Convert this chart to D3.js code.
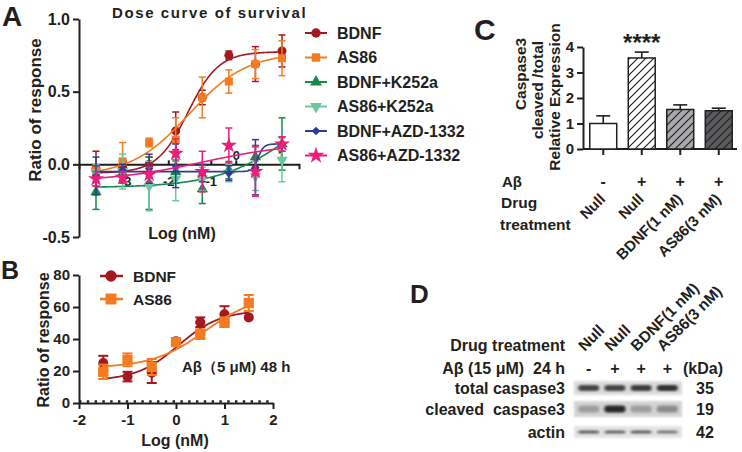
<!DOCTYPE html>
<html><head><meta charset="utf-8">
<script src="https://cdn.jsdelivr.net/npm/d3@7"></script>
<style>
body{margin:0;background:#fff;}
svg{font-family:"Liberation Sans",Arial,Helvetica,sans-serif;font-weight:bold;}
text{fill:#231F20;}
</style></head><body>
<svg id="c" width="742" height="452"></svg>
<script>
// ---------------- DATA ----------------
// Panel A: dose curve of survival (log nM)
const doseA = [-3.5, -3, -2.5, -2, -1.5, -1, -0.5, 0];
const seriesNamesA = ["BDNF", "AS86", "BDNF+K252a", "AS86+K252a", "BDNF+AZD-1332", "AS86+AZD-1332"];
const bdnfA = [-0.03, -0.02, 0.0, 0.23, 0.46, 0.75, 0.69, 0.78];
const bdnfAErr = [0.12, 0.05, 0.05, 0.13, 0.05, 0.03, 0.12, 0.11];
const as86A = [-0.05, 0.02, 0.15, 0.17, 0.46, 0.57, 0.69, 0.73];
const as86AErr = [0.03, 0.13, 0.03, 0.15, 0.14, 0.08, 0.10, 0.12];
const bdnfK252aA = [-0.19, -0.06, -0.13, -0.05, -0.17, -0.04, 0.05, 0.14];
const bdnfK252aAErr = [0.12, 0.06, 0.18, 0.08, 0.10, 0.06, 0.08, 0.18];
const as86K252aA = [-0.06, -0.05, -0.15, -0.10, -0.10, -0.06, -0.08, 0.03];
const as86K252aAErr = [0.06, 0.12, 0.17, 0.15, 0.08, 0.06, 0.10, 0.15];
const bdnfAzdA = [-0.08, -0.04, -0.03, -0.01, -0.06, -0.06, -0.02, 0.14];
const bdnfAzdAErr = [0.13, 0.04, 0.10, 0.15, 0.06, 0.05, 0.19, 0.05];
const as86AzdA = [-0.10, -0.09, -0.07, 0.075, -0.05, 0.13, -0.05, 0.14];
const as86AzdAErr = [0.05, 0.04, 0.05, 0.10, 0.14, 0.12, 0.17, 0.05];
// 4PL fit parameters [bottom, top, logEC50, hill]
const bdnfAFit = [-0.06, 0.775, -1.77, 1.5];
const as86AFit = [-0.08, 0.77, -1.75, 0.8];
const bdnfK252aAFit = [-0.16, 0.6, 0.3, 0.6];
const as86K252aAFit = null;
const bdnfAzdAFit = [-0.05, 0.14, -0.45, 8];
const as86AzdAFit = [-0.12, 0.15, -1.5, 0.5];
const yTicksA = [-0.5, 0, 0.5, 1.0];
const xTickLabelsA = ["-3", "-2", "-1", "0", "1"];
const xTickValuesA = [-2.95, -2.14, -1.34, -0.87, -0.02];

// Panel B
const doseB = [-1.5, -1, -0.5, 0, 0.5, 1, 1.5];
const seriesNamesB = ["BDNF", "AS86"];
const bdnfB = [25, 16.5, 19, 38.5, 50.5, 55.5, 53.5];
const bdnfBErr = [4.5, 3, 6.5, 2, 3, 5, 0];
const as86B = [19.5, 27, 22.5, 38, 43, 50.5, 62.5];
const as86BErr = [4.5, 4, 5, 2, 3, 3, 5];
const bdnfBFit = [14, 58, 0.05, 1];
const as86BFit = [22, 68, 0.6, 0.8];
const yTicksB = [0, 20, 40, 60, 80];
const xTicksB = [-2, -1, 0, 1, 2];

// Panel C
const groupsC = ["Null", "Null", "BDNF(1 nM)", "AS86(3 nM)"];
const abetaC = ["-", "+", "+", "+"];
const valuesC = [1.0, 3.57, 1.55, 1.5];
const errC = [0.3, 0.23, 0.18, 0.1];
const yTicksC = [0, 1, 2, 3, 4];

// Panel D
const lanesD = ["Null", "Null", "BDNF(1 nM)", "AS86(3 nM)"];
const abetaD = ["-", "+", "+", "+"];
const blotRowsD = ["total caspase3", "cleaved\u00a0\u00a0caspase3", "actin"];
const kdaD = ["35", "19", "42"];
const totalCasp3 = [0.78, 0.78, 0.82, 0.88];
const cleavedCasp3 = [0.28, 0.95, 0.28, 0.38];
const actinD = [0.65, 0.62, 0.65, 0.5];

// ---------------- STYLES ----------------
const ink = "#231F20";
const stylesA = [
  {color: "#A3191F", sym: d3.symbolCircle, size: 64, rot: 0},
  {color: "#F47B20", sym: d3.symbolSquare, size: 64, rot: 0},
  {color: "#17894A", sym: d3.symbolTriangle, size: 56, rot: 0},
  {color: "#6CC7A1", sym: d3.symbolTriangle, size: 56, rot: 180},
  {color: "#2E3A94", sym: d3.symbolSquare, size: 34, rot: 45},
  {color: "#EC1E79", sym: d3.symbolStar, size: 80, rot: 0}
];

const svg = d3.select("#c");
const fit = (p, x) => p[0] + (p[1] - p[0]) / (1 + Math.pow(10, (p[2] - x) * p[3]));

function styleAxis(g, fs) {
  g.selectAll("path.domain").attr("stroke", ink).attr("stroke-width", 2);
  g.selectAll(".tick line").attr("stroke", ink).attr("stroke-width", 2);
  g.selectAll(".tick text").attr("fill", ink).style("font-size", fs + "px")
    .style("font-weight", "bold").style("font-family", "'Liberation Sans',Arial,sans-serif");
}

// ---------------- PANEL A ----------------
const xA = d3.scaleLinear().domain([-3.82, 0.32]).range([79, 299]);
const yA = d3.scaleLinear().domain([-0.5, 1]).range([237, 19]);

const gAy = svg.append("g").attr("transform", "translate(79,0)")
  .call(d3.axisLeft(yA).tickValues(yTicksA).tickFormat(d => d.toFixed(1)).tickSize(6).tickSizeOuter(0));
styleAxis(gAy, 16);

const gAx = svg.append("g").attr("transform", `translate(0,${yA(0)})`)
  .call(d3.axisBottom(xA).tickValues(xTickValuesA).tickFormat((d, i) => xTickLabelsA[i]).tickSize(-4).tickSizeOuter(5));
styleAxis(gAx, 13);
gAx.selectAll(".tick text").attr("y", (d, i) => i < 3 ? 12 : -4).attr("dy", (d, i) => i < 3 ? "0.71em" : "0");

const seriesA = [
  {y: bdnfA, e: bdnfAErr, fit: bdnfAFit},
  {y: as86A, e: as86AErr, fit: as86AFit},
  {y: bdnfK252aA, e: bdnfK252aAErr, fit: bdnfK252aAFit},
  {y: as86K252aA, e: as86K252aAErr, fit: as86K252aAFit},
  {y: bdnfAzdA, e: bdnfAzdAErr, fit: bdnfAzdAFit},
  {y: as86AzdA, e: as86AzdAErr, fit: as86AzdAFit}
];
const xsA = d3.range(doseA[0], doseA[doseA.length - 1] + 0.001, 0.01);
const lineA = d3.line().x(d => xA(d[0])).y(d => yA(d[1]));

seriesA.forEach((s, si) => {
  const st = stylesA[si];
  const g = svg.append("g");
  if (s.fit) {
    g.append("path").datum(xsA.map(x => [x, fit(s.fit, x)]))
      .attr("d", lineA).attr("fill", "none").attr("stroke", st.color).attr("stroke-width", 1.6);
  }
  const pts = doseA.map((x, i) => ({x, y: s.y[i], e: s.e[i]}));
  const eb = g.selectAll("g.eb").data(pts).join("g").attr("stroke", st.color).attr("stroke-width", 1.5);
  eb.append("line").attr("x1", d => xA(d.x)).attr("x2", d => xA(d.x))
    .attr("y1", d => yA(d.y - d.e)).attr("y2", d => yA(d.y + d.e));
  eb.append("line").attr("x1", d => xA(d.x) - 3.5).attr("x2", d => xA(d.x) + 3.5)
    .attr("y1", d => yA(d.y + d.e)).attr("y2", d => yA(d.y + d.e));
  eb.append("line").attr("x1", d => xA(d.x) - 3.5).attr("x2", d => xA(d.x) + 3.5)
    .attr("y1", d => yA(d.y - d.e)).attr("y2", d => yA(d.y - d.e));
  g.selectAll("path.pt").data(pts).join("path")
    .attr("d", d3.symbol().type(st.sym).size(st.size))
    .attr("transform", d => `translate(${xA(d.x)},${yA(d.y)}) rotate(${st.rot})`)
    .attr("fill", st.color);
});

// Legend A
const legA = svg.append("g");
seriesNamesA.forEach((n, i) => {
  const st = stylesA[i];
  const y = 33 + i * 24.5;
  legA.append("line").attr("x1", 305).attr("x2", 327).attr("y1", y).attr("y2", y)
    .attr("stroke", st.color).attr("stroke-width", 2);
  legA.append("path").attr("d", d3.symbol().type(st.sym).size(st.size * 1.1)())
    .attr("transform", `translate(316,${y}) rotate(${st.rot})`).attr("fill", st.color);
  legA.append("text").attr("x", 337).attr("y", y).attr("dy", "0.36em")
    .style("font-size", "16px").text(n);
});

svg.append("text").attr("x", 112).attr("y", 18).style("font-size", "15px")
  .style("letter-spacing", "1.6px").text("Dose curve of survival");
svg.append("text").attr("transform", "translate(41,110) rotate(-90)").attr("text-anchor", "middle")
  .style("font-size", "17px").text("Ratio of response");
svg.append("text").attr("x", 182).attr("y", 239).attr("text-anchor", "middle")
  .style("font-size", "16px").text("Log (nM)");
svg.append("text").attr("x", 2).attr("y", 26).style("font-size", "28px").text("A");

// ---------------- PANEL B ----------------
const xB = d3.scaleLinear().domain([-2, 2]).range([79, 273]);
const yB = d3.scaleLinear().domain([0, 80]).range([403, 275]);
const gBy = svg.append("g").attr("transform", "translate(79,0)")
  .call(d3.axisLeft(yB).tickValues(yTicksB).tickFormat(d => String(d)).tickSize(6).tickSizeOuter(0));
styleAxis(gBy, 15);
const gBx = svg.append("g").attr("transform", `translate(0,${yB(0)})`)
  .call(d3.axisBottom(xB).tickValues(xTicksB).tickFormat(d => String(d)).tickSize(6).tickSizeOuter(0));
styleAxis(gBx, 15);
gBx.selectAll(".tick text").attr("y", 11);
// dotted baseline
svg.append("line").attr("x1", xB(-2)).attr("x2", xB(2)).attr("y1", yB(0) - 1.5).attr("y2", yB(0) - 1.5)
  .attr("stroke", ink).attr("stroke-width", 2.5).attr("stroke-dasharray", "2.4,5.4");

const seriesB = [
  {y: bdnfB, e: bdnfBErr, fit: bdnfBFit, st: stylesA[0]},
  {y: as86B, e: as86BErr, fit: as86BFit, st: stylesA[1]}
];
const xsB = d3.range(doseB[0], doseB[doseB.length - 1] + 0.001, 0.01);
const lineB = d3.line().x(d => xB(d[0])).y(d => yB(d[1]));
const sizesB = [80, 105];
seriesB.forEach((s, si) => {
  const g = svg.append("g");
  const pts = doseB.map((x, i) => ({x, y: s.y[i], e: s.e[i]}));
  const eb = g.selectAll("g.eb").data(pts.filter(d => d.e > 0)).join("g").attr("stroke", s.st.color).attr("stroke-width", 2);
  eb.append("line").attr("x1", d => xB(d.x)).attr("x2", d => xB(d.x))
    .attr("y1", d => yB(d.y - d.e)).attr("y2", d => yB(d.y + d.e));
  [1, -1].forEach(sg => eb.append("line").attr("x1", d => xB(d.x) - 5).attr("x2", d => xB(d.x) + 5)
    .attr("y1", d => yB(d.y + sg * d.e)).attr("y2", d => yB(d.y + sg * d.e)));
  g.append("path").datum(xsB.map(x => [x, fit(s.fit, x)]))
    .attr("d", lineB).attr("fill", "none").attr("stroke", s.st.color).attr("stroke-width", 1.8);
  g.selectAll("path.pt").data(pts).join("path")
    .attr("d", d3.symbol().type(s.st.sym).size(sizesB[si]))
    .attr("transform", d => `translate(${xB(d.x)},${yB(d.y)})`).attr("fill", s.st.color);
});
seriesNamesB.forEach((n, i) => {
  const st = stylesA[i];
  const y = 276 + i * 23;
  svg.append("line").attr("x1", 100).attr("x2", 123).attr("y1", y).attr("y2", y)
    .attr("stroke", st.color).attr("stroke-width", 2.5);
  svg.append("path").attr("d", d3.symbol().type(st.sym).size(i ? 120 : 100)())
    .attr("transform", `translate(111,${y})`).attr("fill", st.color);
  svg.append("text").attr("x", 133).attr("y", y).attr("dy", "0.36em").style("font-size", "15.5px").text(n);
});
svg.append("text").attr("x", 182).attr("y", 372).style("font-size", "15px").text("Aβ（5 μM) 48 h");
svg.append("text").attr("transform", "translate(49,340) rotate(-90)").attr("text-anchor", "middle")
  .style("font-size", "16px").text("Ratio of response");
svg.append("text").attr("x", 175).attr("y", 446).attr("text-anchor", "middle")
  .style("font-size", "16px").text("Log (nM)");
svg.append("text").attr("x", 1).attr("y", 279).style("font-size", "25px").text("B");

// ---------------- PANEL C ----------------
const defs = svg.append("defs");
const hatchBg = [null, "#ffffff", "#A7A9AC", "#5A5B5D"];
hatchBg.forEach((bg, i) => {
  if (!bg) return;
  const p = defs.append("pattern").attr("id", "hatch" + i).attr("patternUnits", "userSpaceOnUse")
    .attr("width", 8).attr("height", 8);
  p.append("rect").attr("width", 8).attr("height", 8).attr("fill", bg);
  p.append("path").attr("d", "M-2,2 l4,-4 M0,8 l8,-8 M6,10 l4,-4").attr("stroke", ink).attr("stroke-width", 1.2);
});
const xC = d3.scaleBand().domain(d3.range(groupsC.length)).range([584, 738]).paddingInner(0.3).paddingOuter(0.15);
const yC = d3.scaleLinear().domain([0, 4]).range([149, 47]);
const gCy = svg.append("g").attr("transform", "translate(583,0)")
  .call(d3.axisLeft(yC).tickValues(yTicksC).tickFormat(d => String(d)).tickSize(6).tickSizeOuter(0));
styleAxis(gCy, 15);
const gCx = svg.append("g").attr("transform", `translate(0,${yC(0)})`)
  .call(d3.axisBottom(xC).tickFormat("").tickSize(6).tickSizeOuter(0));
styleAxis(gCx, 15);
gCx.select("path.domain").attr("d", "M583,0H737");

valuesC.forEach((v, i) => {
  const cx = xC(i) + xC.bandwidth() / 2;
  svg.append("line").attr("x1", cx).attr("x2", cx).attr("y1", yC(v)).attr("y2", yC(v + errC[i]))
    .attr("stroke", ink).attr("stroke-width", 1.6);
  svg.append("line").attr("x1", cx - 7).attr("x2", cx + 7).attr("y1", yC(v + errC[i])).attr("y2", yC(v + errC[i]))
    .attr("stroke", ink).attr("stroke-width", 1.6);
  svg.append("rect").attr("x", xC(i)).attr("y", yC(v)).attr("width", xC.bandwidth()).attr("height", yC(0) - yC(v))
    .attr("fill", hatchBg[i] ? `url(#hatch${i})` : "#fff").attr("stroke", ink).attr("stroke-width", 1.5);
  svg.append("text").attr("x", cx).attr("y", 187).attr("text-anchor", "middle").style("font-size", "16px").text(abetaC[i]);
  svg.append("text").attr("transform", `translate(${cx + 3},200) rotate(-45)`).attr("text-anchor", "end")
    .style("font-size", "15px").text(groupsC[i]);
});
svg.append("text").attr("x", xC(1) + xC.bandwidth() / 2).attr("y", 51).attr("text-anchor", "middle")
  .style("font-size", "24px").text("****");
svg.append("text").attr("x", 502).attr("y", 187).style("font-size", "15px").text("Aβ");
svg.append("text").attr("x", 501).attr("y", 208).style("font-size", "15.5px").text("Drug");
svg.append("text").attr("x", 500).attr("y", 230).style("font-size", "15.5px").text("treatment");
[["Caspase3", 521, 74], ["cleaved /total", 538, 90], ["Relative Expression", 555, 97]].forEach(t => {
  svg.append("text").attr("transform", `translate(${t[1] + 5},${t[2]}) rotate(-90)`).attr("text-anchor", "middle")
    .style("font-size", "15.5px").text(t[0]);
});
svg.append("text").attr("x", 474).attr("y", 40).style("font-size", "30px").text("C");

// ---------------- PANEL D ----------------
const blur = defs.append("filter").attr("id", "blur").attr("x", "-30%").attr("y", "-100%").attr("width", "160%").attr("height", "300%");
blur.append("feGaussianBlur").attr("stdDeviation", "1.6 1.1");
const blurBg = defs.append("filter").attr("id", "blurbg").attr("x", "-10%").attr("y", "-50%").attr("width", "120%").attr("height", "200%");
blurBg.append("feGaussianBlur").attr("stdDeviation", "1");
const xD = d3.scaleBand().domain(d3.range(lanesD.length)).range([574, 682]).padding(0.12);
const rowY = [388, 409, 432];
const rowH = [6, 7, 3];
const stripH = [14, 16, 12];
const bgGrey = ["#dcdcdc", "#d4d4d4", "#e4e4e4"];
const bandData = [totalCasp3, cleavedCasp3, actinD];
const grey = d3.scaleLinear().domain([0, 1]).range(["#d0d0d0", "#1e1e1e"]);
blotRowsD.forEach((r, ri) => {
  svg.append("rect").attr("x", 574).attr("y", rowY[ri] - stripH[ri] / 2).attr("width", 108).attr("height", stripH[ri])
    .attr("fill", bgGrey[ri]).attr("filter", "url(#blurbg)");
  bandData[ri].forEach((v, li) => {
    svg.append("rect").attr("x", xD(li) + 1).attr("y", rowY[ri] - rowH[ri] / 2)
      .attr("width", xD.bandwidth() - 2).attr("height", rowH[ri]).attr("rx", 3)
      .attr("fill", grey(v)).attr("filter", "url(#blur)");
  });
  svg.append("text").attr("x", 565).attr("y", rowY[ri]).attr("dy", "0.36em").attr("text-anchor", "end")
    .style("font-size", "16px").text(r);
  svg.append("text").attr("x", 705).attr("y", rowY[ri]).attr("dy", "0.4em").attr("text-anchor", "middle")
    .style("font-size", "16px").text(kdaD[ri]);
});
lanesD.forEach((l, i) => {
  const cx = xD(i) + xD.bandwidth() / 2;
  svg.append("text").attr("x", cx).attr("y", 374).attr("text-anchor", "middle").style("font-size", "16px").text(abetaD[i]);
  svg.append("text").attr("transform", `translate(${cx - 4},352) rotate(-45)`)
    .style("font-size", "15.5px").text(l);
});
svg.append("text").attr("x", 565).attr("y", 351).attr("text-anchor", "end").style("font-size", "16px").text("Drug treatment");
svg.append("text").attr("x", 565).attr("y", 374).attr("text-anchor", "end").style("font-size", "16px").text("Aβ (15 μM)\u00a0\u00a024 h");
svg.append("text").attr("x", 683).attr("y", 374).style("font-size", "16px").text("(kDa)");
svg.append("text").attr("x", 410).attr("y", 303).style("font-size", "26px").text("D");
</script>
</body></html>
